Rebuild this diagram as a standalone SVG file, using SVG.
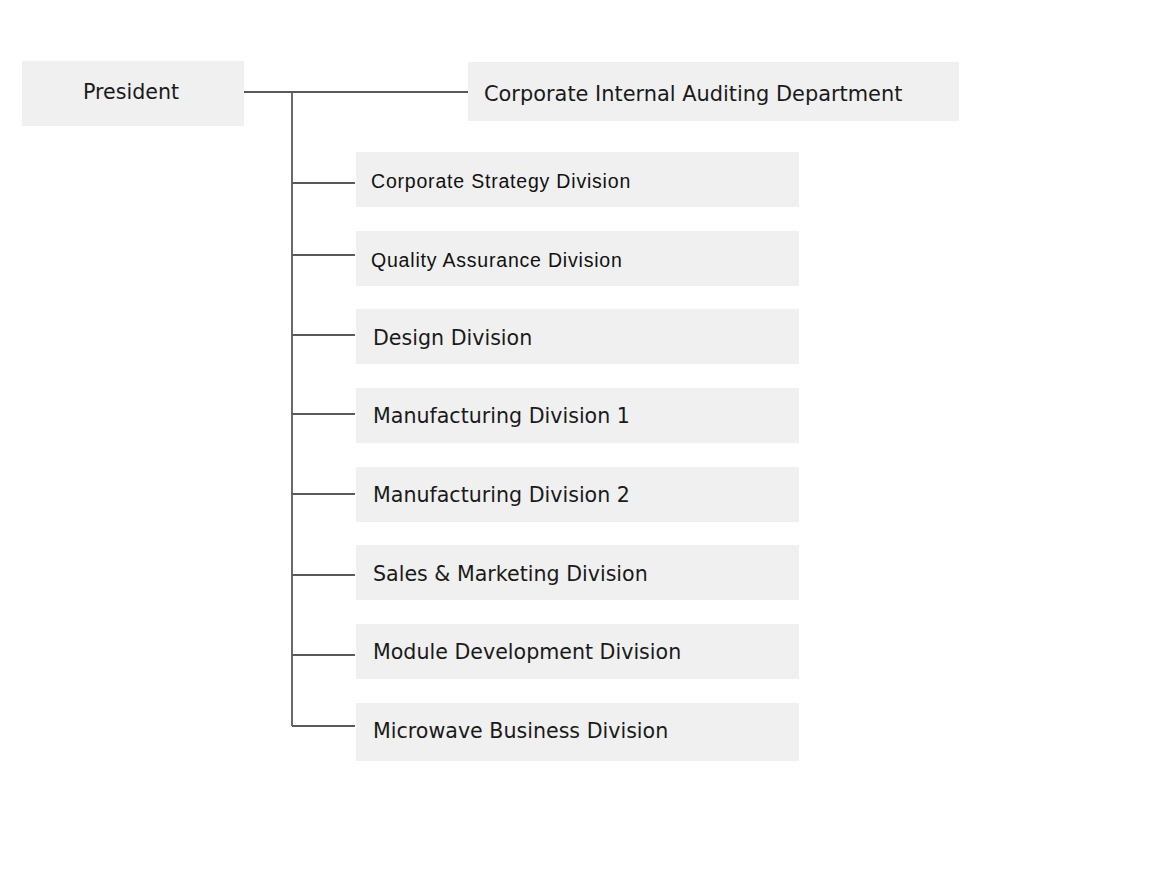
<svg xmlns="http://www.w3.org/2000/svg" width="1160" height="878" viewBox="0 0 1160 878">
<style>
.box{fill:#f0f0f0}
.t{font-family:"DejaVu Sans",Verdana,sans-serif;font-size:20.6px;fill:#1a1a1a}
.a{font-family:"Liberation Sans",Arial,sans-serif;font-size:19.5px;letter-spacing:0.8px;fill:#111}
.c{stroke:#5a5a5a;stroke-width:1.8;fill:none}
</style>
<rect width="1160" height="878" fill="#fff"/>
<g id="connectors">
<path class="c" d="M244,92 H468 M292,92 V726 M292,183 H355 M292,255 H355 M292,335 H355 M292,414 H355 M292,494 H355 M292,575 H355 M292,655 H355 M292,726 H355"/>
</g>
<g id="president"><rect class="box" x="22" y="61" width="222" height="65"/><text class="t" x="83" y="99">President</text></g>
<g id="audit"><rect class="box" x="468" y="62" width="491" height="59"/><text class="t" x="484" y="101" style="font-size:20.9px">Corporate Internal Auditing Department</text></g>
<g id="strategy"><rect class="box" x="356" y="152" width="443" height="55"/><text class="a" x="371" y="188">Corporate Strategy Division</text></g>
<g id="quality"><rect class="box" x="356" y="231" width="443" height="55"/><text class="a" x="371" y="267">Quality Assurance Division</text></g>
<g id="design"><rect class="box" x="356" y="309" width="443" height="55"/><text class="t" x="373" y="345">Design Division</text></g>
<g id="mfg1"><rect class="box" x="356" y="388" width="443" height="55"/><text class="t" x="373" y="423">Manufacturing Division 1</text></g>
<g id="mfg2"><rect class="box" x="356" y="467" width="443" height="55"/><text class="t" x="373" y="502">Manufacturing Division 2</text></g>
<g id="sales"><rect class="box" x="356" y="545" width="443" height="55"/><text class="t" x="373" y="581">Sales &amp; Marketing Division</text></g>
<g id="module"><rect class="box" x="356" y="624" width="443" height="55"/><text class="t" x="373" y="659">Module Development Division</text></g>
<g id="microwave"><rect class="box" x="356" y="703" width="443" height="58"/><text class="t" x="373" y="738">Microwave Business Division</text></g>
</svg>
